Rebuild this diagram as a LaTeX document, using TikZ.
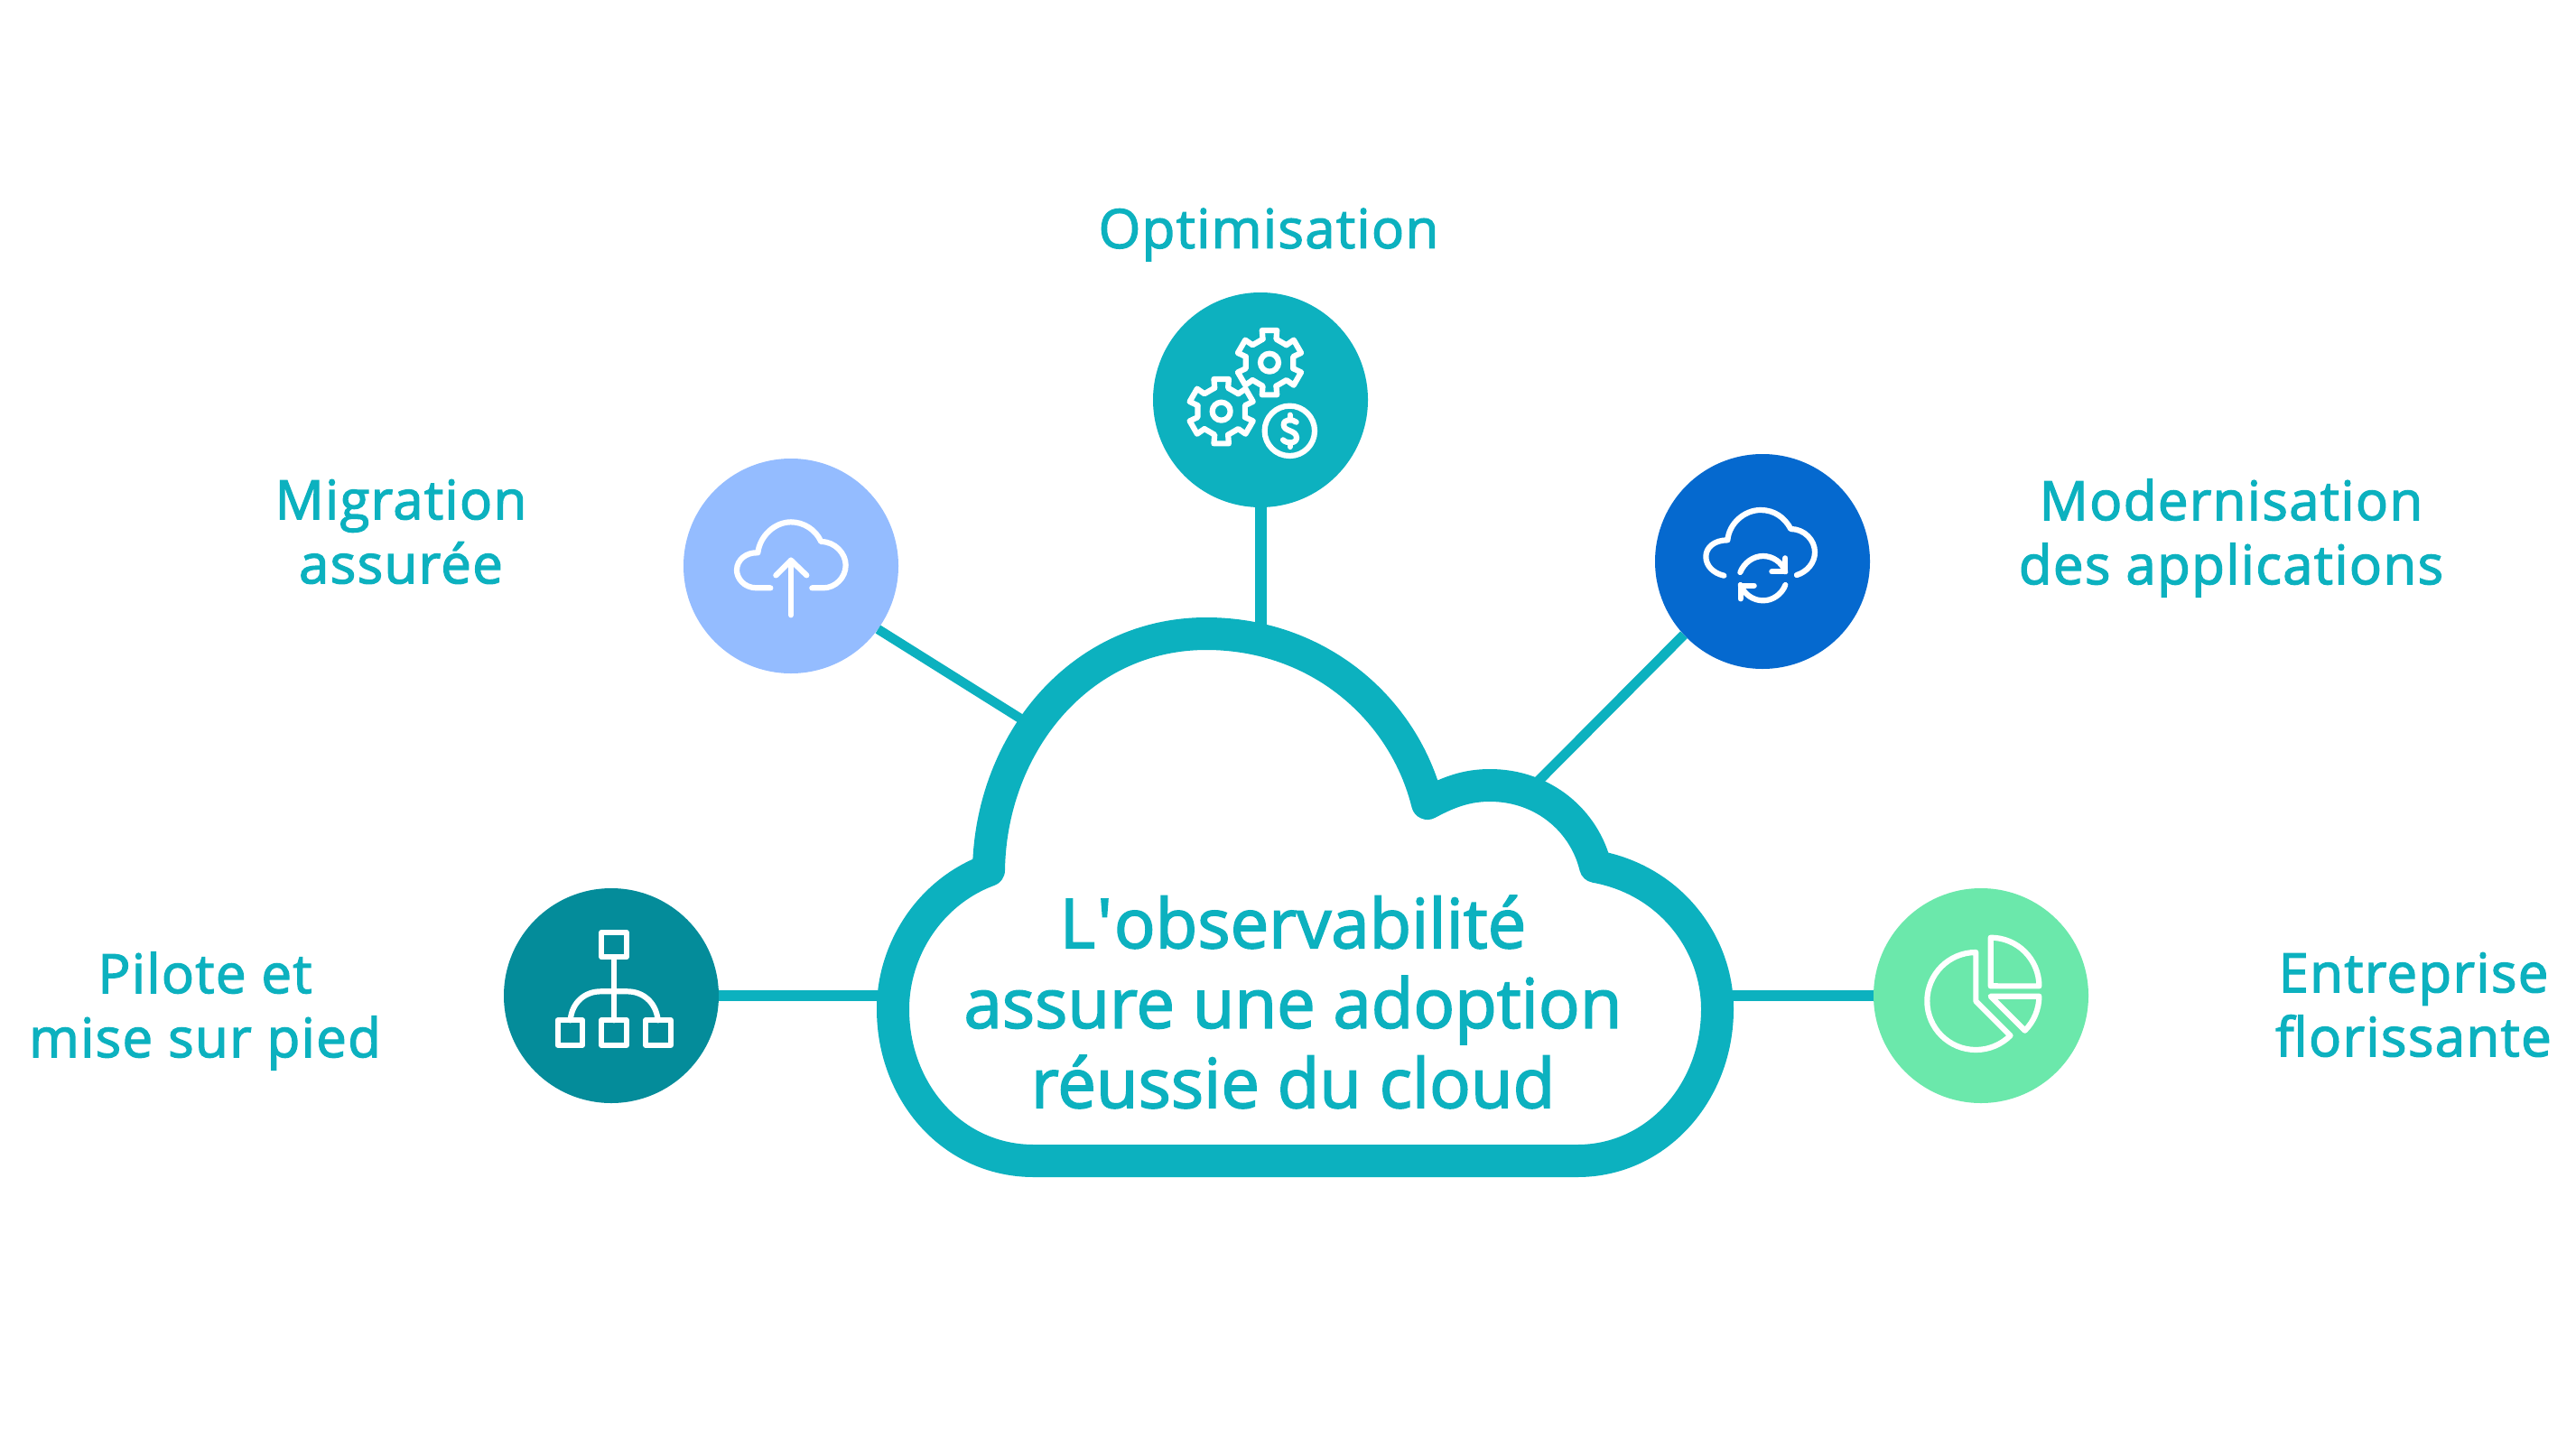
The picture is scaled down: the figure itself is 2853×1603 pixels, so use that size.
\documentclass[tikz,border=0pt]{standalone}
\usepackage{fontspec}
\setmainfont{Open Sans}[FakeBold=2.2,Ligatures=TeXOff]
\newfontfamily\labfont{Open Sans}[LetterSpace=2.2,FakeBold=2.2]
\definecolor{teal1}{HTML}{0CB1BF}
\definecolor{cOpt}{HTML}{0DB1BF}
\definecolor{cMig}{HTML}{94BCFF}
\definecolor{cMod}{HTML}{0569CF}
\definecolor{cPil}{HTML}{048C9A}
\definecolor{cEnt}{HTML}{6BE8AB}
\tikzset{
  bubble/.style={circle,inner sep=0pt,minimum size=238pt,fill=#1},
  label text/.style={inner sep=0pt,align=center,text=teal1,font=\labfont\fontsize{60}{71}\selectfont},
  main text/.style={inner sep=0pt,align=center,text=teal1,font=\fontsize{76}{88.5}\selectfont},
  link/.style={draw=teal1,line width=#1},
  iconline/.style={draw=white,line width=6.2pt,line cap=round,line join=round},
  icon/.style={shift={#1},x=0.33333pt,y=-0.33333pt}
}
\begin{document}
\begin{tikzpicture}[x=1pt,y=-1pt]
\useasboundingbox (0,0) rectangle (2853,1603);
\fill[white] (0,0) rectangle (2853,1603);

% bubbles
\node[bubble=cOpt] (opt) at (1396,443) {};
\node[bubble=cMig] (mig) at (876,627) {};
\node[bubble=cMod] (mod) at (1952,622) {};
\node[bubble=cPil] (pil) at (677,1103) {};
\node[bubble=cEnt] (ent) at (2194,1103) {};

% connector ends on the cloud
\coordinate (eOpt) at (1396,720);
\coordinate (eMig) at (1135,799);
\coordinate (eMod) at (1701,868);
\coordinate (ePil) at (989,1103);
\coordinate (eEnt) at (1902,1103);

\draw[link=13pt] (opt) -- (eOpt);
\draw[link=10.5pt] (mig.324) -- (eMig);
\draw[link=11pt] (mod.223) -- (eMod);
\draw[link=12pt] (pil) -- (ePil);
\draw[link=12pt] (ent) -- (eEnt);

% cloud
\draw[draw=teal1,fill=white,line width=36pt,line join=round]
  (1095,964) .. controls (1097,825) and (1195,702) .. (1336,702)
  .. controls (1460,702) and (1555,785) .. (1581,890)
  .. controls (1605,877) and (1625,870) .. (1650,870)
  .. controls (1710,870) and (1755,910) .. (1767,960)
  .. controls (1850,975) and (1902,1045) .. (1902,1118)
  .. controls (1902,1210) and (1835,1286) .. (1747,1286)
  -- (1145,1286)
  .. controls (1055,1286) and (989,1210) .. (989,1118)
  .. controls (989,1052) and (1030,988) .. (1095,964) -- cycle;

% texts
\node[main text] (title) at (1432,1110) {L\kern2pt'\kern2pt observabilité\\assure une adoption\\réussie du cloud};
\node[label text] (tOpt) at (1405,260) {Optimisation};
\node[label text] (tMig) at (444,589) {Migration\\assurée};
\node[label text] (tMod) at (2471,596) {Modernisation\\des applications};
\node[label text] (tPil) at (227,1120) {Pilote et\\mise sur pied};
\node[label text] (tEnt) at (2673,1113) {Entreprise\\florissante};

% icon: gears and dollar
\begin{scope}[icon={(1260,310)}]
  \foreach \cx/\cy in {438/275,278/437}{
    \begin{scope}[shift={(\cx,\cy)}]
      \draw[iconline] (0,0) circle[radius=10pt];
      \foreach \a in {30,90,150,210,270,330}{
        \draw[iconline] (\a-16:81) -- (\a-13:110) -- (\a+13:110) -- (\a+16:81) -- (\a+44:81);
      }
    \end{scope}
  }
  \draw[iconline] (505,502) circle[radius=27.7pt];
  \draw[iconline] (527,473) .. controls (515,462) and (485,462) .. (485,482)
    .. controls (485,505) and (528,498) .. (528,525)
    .. controls (528,545) and (495,545) .. (483,532);
  \draw[iconline] (506,449) -- (506,460);
  \draw[iconline] (506,545) -- (506,555);
\end{scope}

% icon: cloud upload
\begin{scope}[icon={(740,490)}]
  \draw[iconline] (340,484) -- (295,484) .. controls (250,484) and (228,450) .. (228,425)
    .. controls (228,390) and (260,365) .. (298,367)
    .. controls (305,310) and (355,265) .. (408,265)
    .. controls (450,265) and (490,290) .. (508,330)
    .. controls (555,330) and (590,370) .. (590,408)
    .. controls (590,450) and (555,484) .. (515,484) -- (478,484);
  \draw[iconline] (408,574) -- (408,392);
  \draw[iconline] (358,442) -- (408,392) -- (460,442);
\end{scope}

% icon: cloud refresh
\begin{scope}[icon={(1820,490)}]
  \draw[iconline] (268,443) .. controls (232,435) and (208,410) .. (208,380)
    .. controls (208,350) and (235,325) .. (280,325)
    .. controls (285,270) and (335,225) .. (390,225)
    .. controls (435,225) and (470,250) .. (490,288)
    .. controls (535,288) and (570,325) .. (570,365)
    .. controls (570,400) and (545,430) .. (510,441);
  \draw[iconline] (322,432) .. controls (335,400) and (365,378) .. (398,378)
    .. controls (430,378) and (460,398) .. (472,430);
  \draw[iconline] (472,385) -- (472,430) -- (427,430);
  \draw[iconline] (472,474) .. controls (460,505) and (430,526) .. (398,526)
    .. controls (365,526) and (335,505) .. (323,474);
  \draw[iconline] (323,520) -- (323,476) -- (368,476);
\end{scope}

% icon: hierarchy
\begin{scope}[icon={(540,970)}]
  \draw[iconline] (379,189) rectangle (461,271);
  \draw[iconline] (233,481) rectangle (315,563);
  \draw[iconline] (379,481) rectangle (461,563);
  \draw[iconline] (526,481) rectangle (608,563);
  \draw[iconline] (420,271) -- (420,481);
  \draw[iconline] (275,481) .. controls (280,420) and (325,385) .. (375,385)
    -- (465,385) .. controls (515,385) and (560,420) .. (566,481);
\end{scope}

% icon: pie chart
\begin{scope}[icon={(2060,970)}]
  \draw[iconline] (385,417) -- (385,255) arc[start angle=90,end angle=315,radius=54pt] -- cycle;
  \draw[iconline] (434,367) -- (434,206) arc[start angle=90,end angle=0,radius=53.7pt] -- cycle;
  \draw[iconline] (434,401) -- (595,401) arc[start angle=0,end angle=-45,radius=53.7pt] -- cycle;
\end{scope}
\end{tikzpicture}
\end{document}
